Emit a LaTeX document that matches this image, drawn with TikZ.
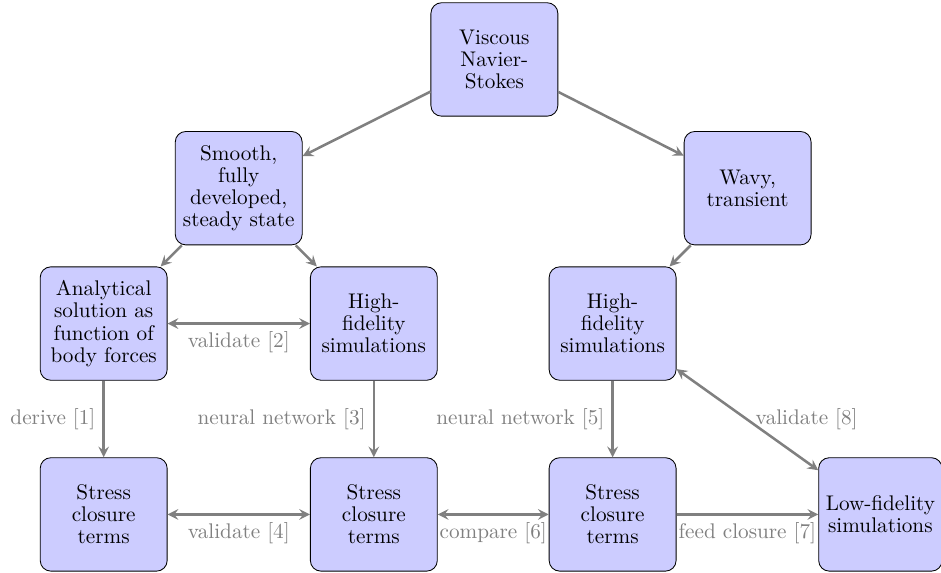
\documentclass[tikz,border=0pt]{standalone}
\usepackage{tikz}
\usetikzlibrary{positioning,calc,arrows}

\begin{document}
\begin{tikzpicture}[
      box/.style={rectangle, draw, rounded corners=5pt, fill=blue!20, text width=1.87cm, align=center,
        minimum height=1.88cm, font=\fontsize{10}{10.4}\selectfont},
      arrow/.style={->,>=stealth, very thick, gray},
      twoway/.style={<->,>=stealth, very thick, gray},
      lbl/.style={text=gray}
    ]

    % Middle row: analytical and high-fidelity
    \node[box] (analytical) {Analytical solution as function of body forces};
    \node[box, right=2.36cm of analytical] (hifia) {High-fidelity simulations};
    \node[box, right=1.84cm of hifia] (hifib) {High-fidelity simulations};

    % Bottom row: closure terms and low-fidelity
    \node[box, below=1.27cm of analytical] (stressa) {Stress closure terms};
    \node[box, below=1.27cm of hifia] (stressb) {Stress closure terms};
    \node[box, below=1.27cm of hifib] (stressc) {Stress closure terms};
    \node[box, text width=, right=2.35cm of stressc] (lowfi) {Low-fidelity\\ simulations};

    % Upper rows: flow regimes and equations
    \node[box, above right=0.35cm and 0.12cm of analytical] (smooth) {Smooth, fully developed, steady state};
    \node[box, above right=0.35cm and 0.12cm of hifib] (wavy) {Wavy, transient};
    \node[box, above right=0.24cm and 2.12cm of smooth] (viscous) {Viscous Navier-Stokes};

    % Relationships
    \draw[arrow] (viscous) -- (smooth);
    \draw[arrow] (viscous) -- (wavy);
    \draw[arrow] (smooth) -- (analytical);
    \draw[arrow] (smooth) -- (hifia);
    \draw[arrow] (wavy) -- (hifib);
    \draw[twoway] (analytical) -- node[lbl, below] {validate [2]} (hifia);
    \draw[arrow] (analytical) -- node[lbl, left] {derive [1]} (stressa);
    \draw[arrow] (hifia) -- node[lbl, left] {neural network [3]} (stressb);
    \draw[arrow] (hifib) -- node[lbl, left] {neural network [5]} (stressc);
    \draw[twoway] (hifib) -- node[lbl, right] {validate [8]} (lowfi);
    \draw[twoway] (stressa) -- node[lbl, below] {validate [4]} (stressb);
    \draw[twoway] (stressb) -- node[lbl, below] {compare [6]} (stressc);
    \draw[arrow] (stressc) -- node[lbl, below] {feed closure [7]} (lowfi);

    \pgfresetboundingbox
    \useasboundingbox ($(analytical.west |- stressa.south)+(-0.66,-0.015)$) rectangle ++(15.6,9.49);

  \end{tikzpicture}
\end{document}
